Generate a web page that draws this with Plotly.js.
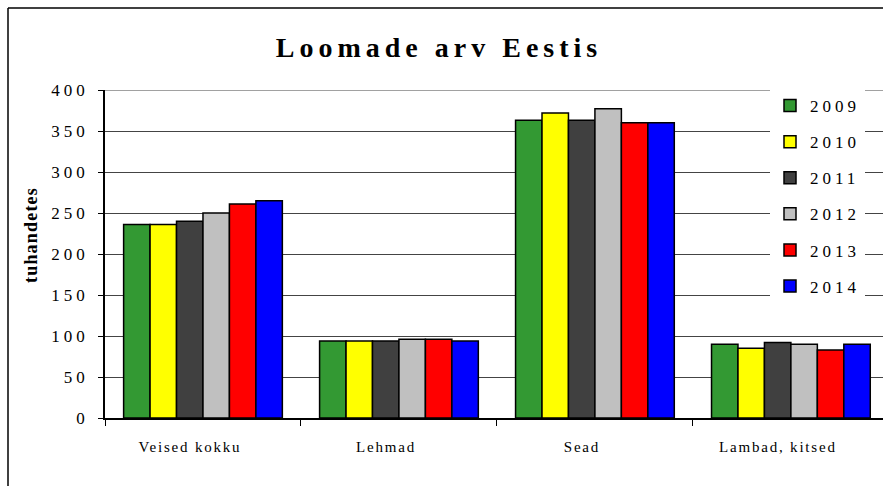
<!DOCTYPE html>
<html>
<head>
<meta charset="utf-8">
<script src="https://cdn.plot.ly/plotly-3.0.1.min.js"></script>
<style>
html,body{margin:0;padding:0;background:#fff;overflow:hidden;}
#chart{width:883px;height:486px;}
.gtitle{letter-spacing:5px;}
.ytick text{letter-spacing:4px;}
.xtick text{letter-spacing:1.8px;}
.legendtext{letter-spacing:4px;}
.annotation-text{letter-spacing:1.2px;}
</style>
</head>
<body>
<div id="chart"></div>
<script>
var categories = ["Veised kokku", "Lehmad", "Sead", "Lambad, kitsed"];
var years = ["2009", "2010", "2011", "2012", "2013", "2014"];
var v2009 = [236, 94, 363, 90];
var v2010 = [236, 94, 372, 85];
var v2011 = [240, 94, 363, 92];
var v2012 = [250, 96, 377, 90];
var v2013 = [261, 96, 360, 83];
var v2014 = [265, 94, 360, 90];
var seriesValues = [v2009, v2010, v2011, v2012, v2013, v2014];
var colors = ["#339933", "#FFFF00", "#404040", "#C0C0C0", "#FF0000", "#0000FF"];

var serif = "'Liberation Serif', 'Times New Roman', serif";

var traces = years.map(function (y, i) {
  return {
    type: "bar",
    name: y,
    x: categories,
    y: seriesValues[i],
    legendgroup: "g" + i,
    marker: {color: colors[i], line: {color: "#000", width: 1.5}},
    hoverinfo: "x+y+name"
  };
});

// plot area: x 105..883, y 90..418
var L = 105, R = 883, T = 90, B = 418;
function px(x) { return (x - L) / (R - L); }
function py(y) { return (B - y) / (B - T); }

var layout = {
  width: 883, height: 486,
  margin: {l: L, r: 883 - R, t: T, b: 486 - B, pad: 0},
  paper_bgcolor: "#fff", plot_bgcolor: "#fff",
  font: {family: serif, color: "#000", size: 15},
  title: {text: "Loomade arv Eestis", font: {family: serif, size: 28, weight: "bold", color: "#000"},
          x: 439 / 883, xref: "container", xanchor: "center", y: 1 - 47 / 486, yanchor: "middle"},
  barmode: "group",
  bargap: 0.19,
  bargroupgap: 0,
  xaxis: {
    type: "category",
    range: [-0.5, 3.47],
    showline: true, linecolor: "#000", linewidth: 1.5,
    ticks: "outside", ticklen: 6, tickcolor: "#000", tickwidth: 1,
    tickson: "boundaries",
    ticklabelshift: -13,
    ticklabelstandoff: 14,
    showgrid: false, zeroline: false,
    tickfont: {family: serif, size: 15, color: "#000"},
    fixedrange: true
  },
  yaxis: {
    range: [0, 400],
    tickvals: [0, 50, 100, 150, 200, 250, 300, 350, 400],
    showline: true, linecolor: "#000", linewidth: 1.5,
    ticks: "outside", ticklen: 5, tickcolor: "#000", tickwidth: 1,
    ticklabelstandoff: 6,
    showgrid: true, gridcolor: "#444", gridwidth: 1,
    zeroline: false,
    tickfont: {family: serif, size: 17, color: "#000"},
    fixedrange: true
  },
  legend: {
    x: px(770), xanchor: "left",
    y: py(88), yanchor: "top",
    bgcolor: "#fff", borderwidth: 0,
    font: {family: serif, size: 17, color: "#000"},
    tracegroupgap: 11,
    traceorder: "grouped"
  },
  annotations: [{
    text: "<b>tuhandetes</b>",
    xref: "paper", yref: "paper",
    x: px(31), y: py(235),
    xanchor: "center", yanchor: "middle",
    textangle: -90, showarrow: false,
    font: {family: serif, size: 18, color: "#000"}
  }],
  shapes: [
    {type: "line", xref: "paper", yref: "y", x0: 0, x1: 1, y0: 400, y1: 400,
     line: {color: "#444", width: 1}},
    {type: "line", xref: "paper", yref: "paper", x0: px(8), x1: px(8), y0: py(8), y1: py(490),
     line: {color: "#000", width: 1.5}},
    {type: "line", xref: "paper", yref: "paper", x0: px(8), x1: px(890), y0: py(8), y1: py(8),
     line: {color: "#000", width: 1.5}}
  ],
  showlegend: true
};

Plotly.newPlot("chart", traces, layout, {displayModeBar: false, responsive: false});
</script>
</body>
</html>
